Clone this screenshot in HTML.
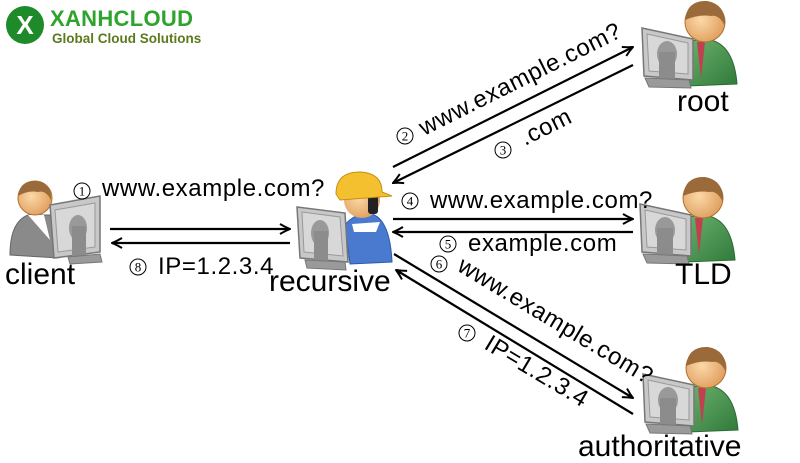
<!DOCTYPE html>
<html><head><meta charset="utf-8"><style>
html,body{margin:0;padding:0;background:#fff;}
svg{display:block;font-family:"Liberation Sans",sans-serif;}
</style></head><body>
<svg width="800" height="463" viewBox="0 0 800 463" xmlns="http://www.w3.org/2000/svg">
<defs>
<marker id="ah" viewBox="0 0 12 12" refX="11" refY="6" markerWidth="12" markerHeight="12" markerUnits="userSpaceOnUse" orient="auto">
<path d="M1,1 Q6,4 11,6 Q6,8 1,11" fill="none" stroke="#000" stroke-width="2"/>
</marker>
<radialGradient id="skin" cx="0.4" cy="0.45" r="0.6"><stop offset="0" stop-color="#fbd8a8"/><stop offset="1" stop-color="#e0a060"/></radialGradient>
<linearGradient id="green" x1="0" y1="0" x2="1" y2="1"><stop offset="0" stop-color="#6fb36f"/><stop offset="1" stop-color="#2f7a3a"/></linearGradient>
<g id="srv">
<path d="M683,392 Q700,382 712,386 Q735,392 738,430 L688,432 Z" fill="url(#green)" stroke="#2f6a35" stroke-width="1"/>
<path d="M698,388 L706,388 L702,425 Z" fill="#c04050"/>
<circle cx="706" cy="368" r="20" fill="url(#skin)" stroke="#b07030" stroke-width="1"/>
<path d="M686,366 Q688,346 708,347 Q727,350 726,372 Q720,360 712,362 Q700,360 686,366Z" fill="#9a6a3a"/>
<path d="M643,374 L694,385 L694,426 L645,422 Z" fill="#c8c8c8" stroke="#777" stroke-width="1.5"/>
<path d="M648,380 L689,389 L689,420 L650,417 Z" fill="#d8d8d8" stroke="#999" stroke-width="1"/>
<ellipse cx="668" cy="400" rx="10" ry="13" fill="#999"/>
<rect x="660" y="398" width="16" height="28" fill="#8c8c8c"/>
<path d="M646,424 L690,426 L692,434 L650,433 Z" fill="#9a9a9a" stroke="#777" stroke-width="1"/>
</g>
</defs>

<circle cx="25" cy="25" r="19" fill="#1f8a2a"/>
<text x="25" y="34" font-size="26" font-weight="bold" fill="#fff" text-anchor="middle">X</text>
<text x="50" y="26" font-size="22" font-weight="bold" fill="#2ea32e" letter-spacing="0.3">XANHCLOUD</text>
<text x="52" y="43" font-size="13.5" font-weight="bold" fill="#5c7a1c">Global Cloud Solutions</text>

<use href="#srv" transform="translate(-1,-346)"/>
<use href="#srv" transform="translate(-3,-170)"/>
<use href="#srv" transform="translate(0,0)"/>

<path d="M10,255 Q10,222 28,215 L50,215 L58,258 Z" fill="#8a8a8a" stroke="#666"/>
<path d="M28,215 L44,215 L50,240 Z" fill="#fff"/>
<circle cx="35" cy="198" r="17" fill="url(#skin)" stroke="#b07030"/>
<path d="M18,196 Q20,180 36,181 Q52,183 51,200 Q46,190 38,192 Q28,190 18,196Z" fill="#9a6a3a"/>
<path d="M50,205 L100,196 L100,252 L54,258 Z" fill="#c8c8c8" stroke="#777" stroke-width="1.5"/>
<path d="M55,210 L95,203 L95,247 L58,252 Z" fill="#d8d8d8" stroke="#999"/>
<ellipse cx="78" cy="228" rx="9" ry="13" fill="#999"/>
<rect x="72" y="226" width="14" height="30" fill="#8c8c8c"/>
<path d="M68,257 L100,254 L102,262 L70,264 Z" fill="#9a9a9a" stroke="#777"/>

<path d="M345,225 Q355,212 372,214 Q390,220 392,262 L350,264 Z" fill="#4a7ad0" stroke="#2a5aa8"/>
<path d="M352,224 L380,222 L376,232 L354,232Z" fill="#fff"/>
<circle cx="362" cy="200" r="18" fill="url(#skin)"/>
<rect x="368" y="194" width="10" height="20" rx="3" fill="#222"/>
<path d="M336,194 Q336,172 360,172 Q382,173 382,192 L392,196 L340,200 Z" fill="#f5c030" stroke="#c89010"/>
<path d="M297,207 L345,213 L348,262 L300,258 Z" fill="#c8c8c8" stroke="#777" stroke-width="1.5"/>
<path d="M302,212 L340,217 L343,256 L304,252 Z" fill="#d8d8d8" stroke="#999"/>
<ellipse cx="320" cy="233" rx="9" ry="13" fill="#999"/>
<rect x="314" y="231" width="14" height="30" fill="#8c8c8c"/>
<path d="M305,260 L345,262 L346,270 L307,268 Z" fill="#9a9a9a" stroke="#777"/>

<g stroke="#000" stroke-width="2.2" fill="none" marker-end="url(#ah)">
<line x1="110" y1="229" x2="290" y2="229"/>
<line x1="290" y1="243" x2="112" y2="243"/>
<line x1="393" y1="167" x2="633" y2="47"/>
<line x1="633" y1="65" x2="393" y2="183"/>
<line x1="393" y1="219" x2="633" y2="219"/>
<line x1="633" y1="232" x2="393" y2="232"/>
<line x1="394" y1="254" x2="633" y2="398"/>
<line x1="633" y1="414" x2="396" y2="270"/>
</g>

<g font-size="24" fill="#000" letter-spacing="0.6">
<text x="102" y="196">www.example.com?</text>
<text x="158" y="274">IP=1.2.3.4</text>
<text x="430" y="208">www.example.com?</text>
<text x="468" y="251">example.com</text>
<text transform="translate(424,136) rotate(-26.6)">www.example.com?</text>
<text transform="translate(525,146) rotate(-26.6)">.com</text>
<text transform="translate(456,270) rotate(31)">www.example.com?</text>
<text transform="translate(483,348) rotate(31)">IP=1.2.3.4</text>
</g>
<g font-size="13" fill="#000" text-anchor="middle" font-family="Liberation Serif,serif">
<circle cx="82" cy="191" r="8" fill="none" stroke="#000"/><text x="82" y="195.5">1</text>
<circle cx="138" cy="267" r="8" fill="none" stroke="#000"/><text x="138" y="271.5">8</text>
<circle cx="410" cy="201" r="8" fill="none" stroke="#000"/><text x="410" y="205.5">4</text>
<circle cx="448" cy="244" r="8" fill="none" stroke="#000"/><text x="448" y="248.5">5</text>
<circle cx="405" cy="136" r="8" fill="none" stroke="#000"/><text x="405" y="140.5">2</text>
<circle cx="503" cy="150" r="8" fill="none" stroke="#000"/><text x="503" y="154.5">3</text>
<circle cx="439" cy="264" r="8" fill="none" stroke="#000"/><text x="439" y="268.5">6</text>
<circle cx="467" cy="333" r="8" fill="none" stroke="#000"/><text x="467" y="337.5">7</text>
</g>
<g font-size="30" fill="#000">
<text x="677" y="111">root</text>
<text x="675" y="284">TLD</text>
<text x="578" y="456">authoritative</text>
<text x="5" y="284">client</text>
<text x="269" y="291">recursive</text>
</g>
</svg>
</body></html>
